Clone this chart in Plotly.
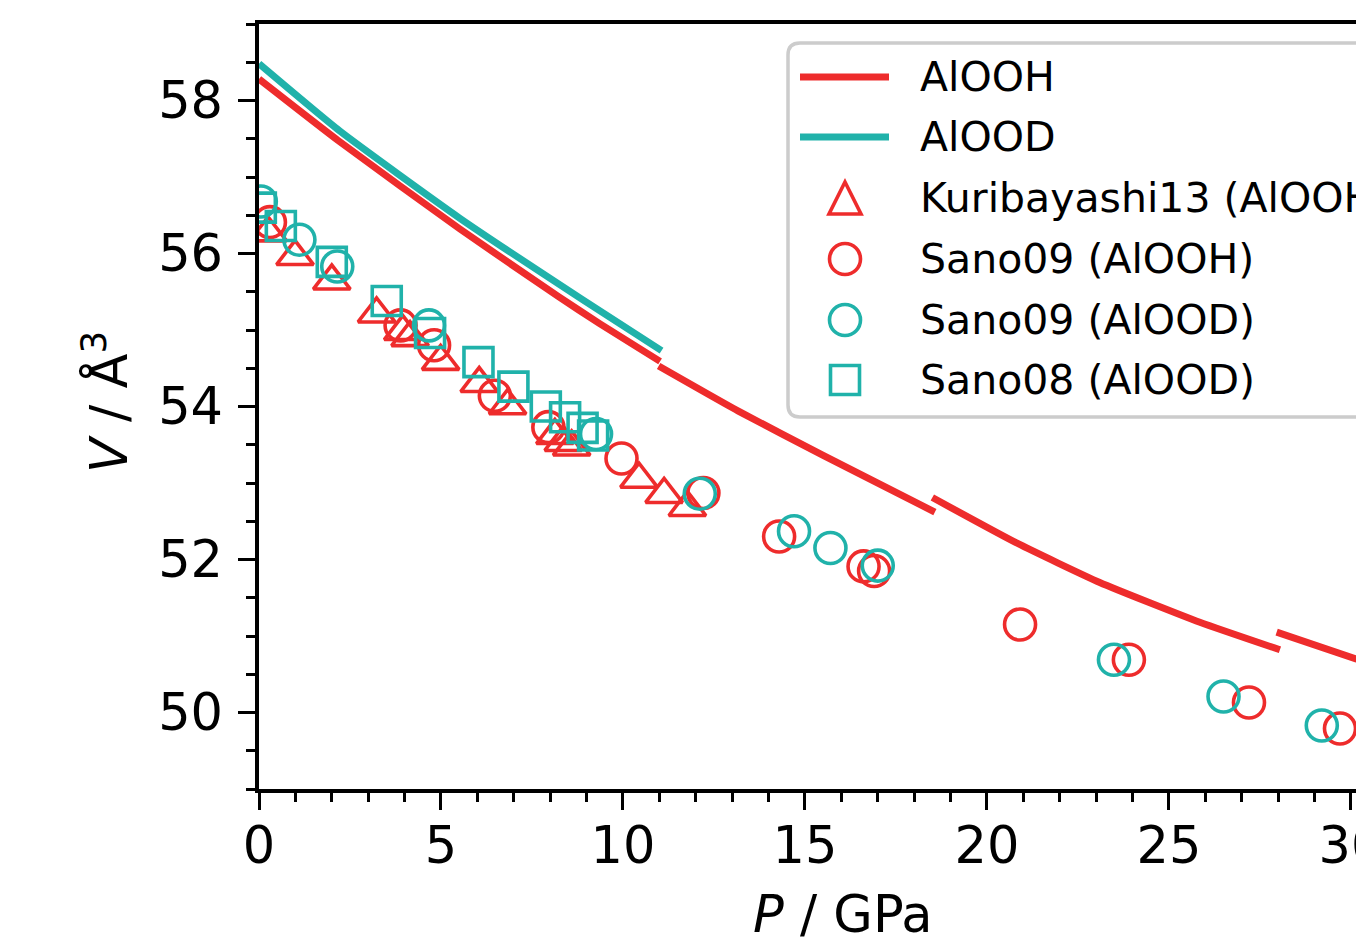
import plotly.graph_objects as go

RED = '#ee2c2c'
CYAN = '#20b2aa'
FONT = 'DejaVu Sans'

# ---------------- data ----------------
# EOS curves (None separates the calculated segments)
alooh_p = [0.0, 2.22, 5.52, 8.22, 9.37, 11.02, None,
           10.98, 13.21, 15.5, 18.57, None,
           18.5, 20.8, 23.1, 25.85, 28.05, None,
           27.96, 30.14, 31.0]
alooh_v = [58.28, 57.46, 56.32, 55.44, 55.08, 54.59, None,
           54.53, 53.93, 53.36, 52.62, None,
           52.81, 52.22, 51.70, 51.18, 50.82, None,
           51.05, 50.70, 50.57]

alood_p = [0.0, 2.22, 5.52, 8.91, 11.06]
alood_v = [58.48, 57.60, 56.46, 55.39, 54.73]

# experiments
kuri_p = [0.25, 0.99, 2.0, 3.23, 3.95, 4.15, 4.99, 6.05, 6.83, 8.13, 8.36, 8.59, 10.44, 11.13, 11.77]
kuri_v = [56.27, 55.96, 55.64, 55.21, 54.98, 54.90, 54.59, 54.30, 54.01, 53.62, 53.53, 53.47, 53.05, 52.85, 52.68]

sano09h_p = [0.3, 3.89, 4.81, 6.48, 7.95, 9.96, 12.21, 14.29, 16.61, 16.90, 20.91, 23.90, 27.20, 29.70]
sano09h_v = [56.41, 55.06, 54.80, 54.14, 53.73, 53.32, 52.87, 52.30, 51.91, 51.85, 51.15, 50.69, 50.13, 49.79]

sano09d_p = [0.05, 1.11, 2.15, 4.67, 9.26, 12.11, 14.70, 15.70, 17.00, 23.49, 26.50, 29.20]
sano09d_v = [56.68, 56.18, 55.83, 55.06, 53.64, 52.86, 52.37, 52.15, 51.92, 50.69, 50.21, 49.83]

sano08d_p = [0.05, 0.60, 2.00, 3.51, 4.70, 6.03, 6.99, 7.88, 8.41, 8.89, 9.18]
sano08d_v = [56.60, 56.36, 55.89, 55.38, 54.96, 54.58, 54.26, 54.00, 53.86, 53.72, 53.62]

legend_labels = ["AlOOH", "AlOOD", "Kuribayashi13 (AlOOH)", "Sano09 (AlOOH)",
                 "Sano09 (AlOOD)", "Sano08 (AlOOD)"]
x_ticks = [0, 5, 10, 15, 20, 25, 30]
y_ticks = [50, 52, 54, 56, 58]
x_title = "<i>P</i> / GPa"
y_title = "<i>V</i> / Å<sup>3</sup>"

# ---------------- layout geometry ----------------
W, H = 1356, 948
L, T, B, R = 259, 24, 159, 0
PW, PH = W - L - R, H - T - B
X_RANGE = [0, 30.14]
Y_RANGE = [49, 59]


def px(xp):
    return (xp - L) / PW


def py(yp):
    return 1 - (yp - T) / PH


fig = go.Figure()

fig.add_trace(go.Scatter(x=alooh_p, y=alooh_v, mode='lines', name=legend_labels[0],
                         line=dict(color=RED, width=7, shape='spline', smoothing=0.5),
                         connectgaps=False, showlegend=False))
fig.add_trace(go.Scatter(x=alood_p, y=alood_v, mode='lines', name=legend_labels[1],
                         line=dict(color=CYAN, width=7, shape='spline', smoothing=0.5),
                         showlegend=False))

mk = dict(size=31, line=dict(width=3.6))
fig.add_trace(go.Scatter(x=kuri_p, y=kuri_v, mode='markers', name=legend_labels[2], showlegend=False,
                         marker=dict(symbol='triangle-up-open', color=RED, size=32, line=dict(width=3.6))))
fig.add_trace(go.Scatter(x=sano09h_p, y=sano09h_v, mode='markers', name=legend_labels[3], showlegend=False,
                         marker=dict(symbol='circle-open', color=RED, **mk)))
fig.add_trace(go.Scatter(x=sano09d_p, y=sano09d_v, mode='markers', name=legend_labels[4], showlegend=False,
                         marker=dict(symbol='circle-open', color=CYAN, **mk)))
fig.add_trace(go.Scatter(x=sano08d_p, y=sano08d_v, mode='markers', name=legend_labels[5], showlegend=False,
                         marker=dict(symbol='square-open', color=CYAN, size=29, line=dict(width=3.6))))

# ---------------- legend (drawn manually to match marker/line sizes) ----------------
shapes = []
bx0, bx1, by0, by1, rr = 788, 1400, 43, 417, 12
x0, x1, yt, yb = px(bx0), px(bx1), py(by0), py(by1)
rx, ry = rr / PW, rr / PH
box_path = (f"M{x0+rx},{yt} L{x1-rx},{yt} Q{x1},{yt} {x1},{yt-ry} L{x1},{yb+ry} "
            f"Q{x1},{yb} {x1-rx},{yb} L{x0+rx},{yb} Q{x0},{yb} {x0},{yb+ry} "
            f"L{x0},{yt-ry} Q{x0},{yt} {x0+rx},{yt} Z")
shapes.append(dict(type='path', xref='paper', yref='paper', path=box_path,
                   line=dict(color='#cccccc', width=3.5), fillcolor='rgba(255,255,255,0.8)',
                   layer='above'))

row_y = [77, 137, 198, 259, 320, 380]
sym_x = 845
text_x = 918
# line samples
for yy, col in zip(row_y[:2], [RED, CYAN]):
    shapes.append(dict(type='line', xref='paper', yref='paper', x0=px(800), x1=px(889),
                       y0=py(yy), y1=py(yy), line=dict(color=col, width=7), layer='above'))
# triangle
tr = 16
yy = row_y[2]
shapes.append(dict(type='path', xref='paper', yref='paper',
                   path=f"M{px(sym_x)},{py(yy-tr)} L{px(sym_x+tr)},{py(yy+tr)} L{px(sym_x-tr)},{py(yy+tr)} Z",
                   line=dict(color=RED, width=3.6), fillcolor='rgba(0,0,0,0)', layer='above'))
# circles
cr = 15.5
for yy, col in zip(row_y[3:5], [RED, CYAN]):
    shapes.append(dict(type='circle', xref='paper', yref='paper',
                       x0=px(sym_x-cr), x1=px(sym_x+cr), y0=py(yy+cr), y1=py(yy-cr),
                       line=dict(color=col, width=3.6), fillcolor='rgba(0,0,0,0)', layer='above'))
# square
sq = 14.5
yy = row_y[5]
shapes.append(dict(type='rect', xref='paper', yref='paper',
                   x0=px(sym_x-sq), x1=px(sym_x+sq), y0=py(yy+sq), y1=py(yy-sq),
                   line=dict(color=CYAN, width=3.6), fillcolor='rgba(0,0,0,0)', layer='above'))

annotations = []
for lab, yy in zip(legend_labels, row_y):
    annotations.append(dict(text=lab, xref='paper', yref='paper', x=px(text_x), y=py(yy),
                            xanchor='left', yanchor='middle', showarrow=False,
                            font=dict(family=FONT, size=41, color='black')))

# axis titles
annotations.append(dict(text=x_title, xref='paper', yref='paper', x=px(843), y=py(914),
                        xanchor='center', yanchor='middle', showarrow=False,
                        font=dict(family=FONT, size=51, color='black')))
annotations.append(dict(text=y_title, xref='paper', yref='paper', x=px(106), y=py(402),
                        xanchor='center', yanchor='middle', showarrow=False, textangle=-90,
                        font=dict(family=FONT, size=51, color='black')))

axis_common = dict(showline=True, linecolor='black', linewidth=3.5, showgrid=False, zeroline=False,
                   ticks='outside', ticklen=17, tickwidth=3, tickcolor='black',
                   ticklabeloverflow='allow', automargin=False,
                   tickfont=dict(family=FONT, size=51, color='black'))

fig.update_layout(
    width=W, height=H,
    margin=dict(l=L, r=R, t=T, b=B, pad=0, autoexpand=False),
    paper_bgcolor='white', plot_bgcolor='white',
    showlegend=False,
    shapes=shapes, annotations=annotations,
    xaxis=dict(range=X_RANGE, tickmode='array', tickvals=x_ticks, mirror=True,
               ticklabelstandoff=-8,
               minor=dict(tickmode='linear', tick0=0, dtick=1, ticks='outside', ticklen=9,
                          tickwidth=3, tickcolor='black', showgrid=False),
               **axis_common),
    yaxis=dict(range=Y_RANGE, tickmode='array', tickvals=y_ticks, mirror=False,
               ticklabelstandoff=5,
               minor=dict(tickmode='linear', tick0=49, dtick=0.5, ticks='outside', ticklen=9,
                          tickwidth=3, tickcolor='black', showgrid=False),
               **axis_common),
)

fig.write_html("out.html")
